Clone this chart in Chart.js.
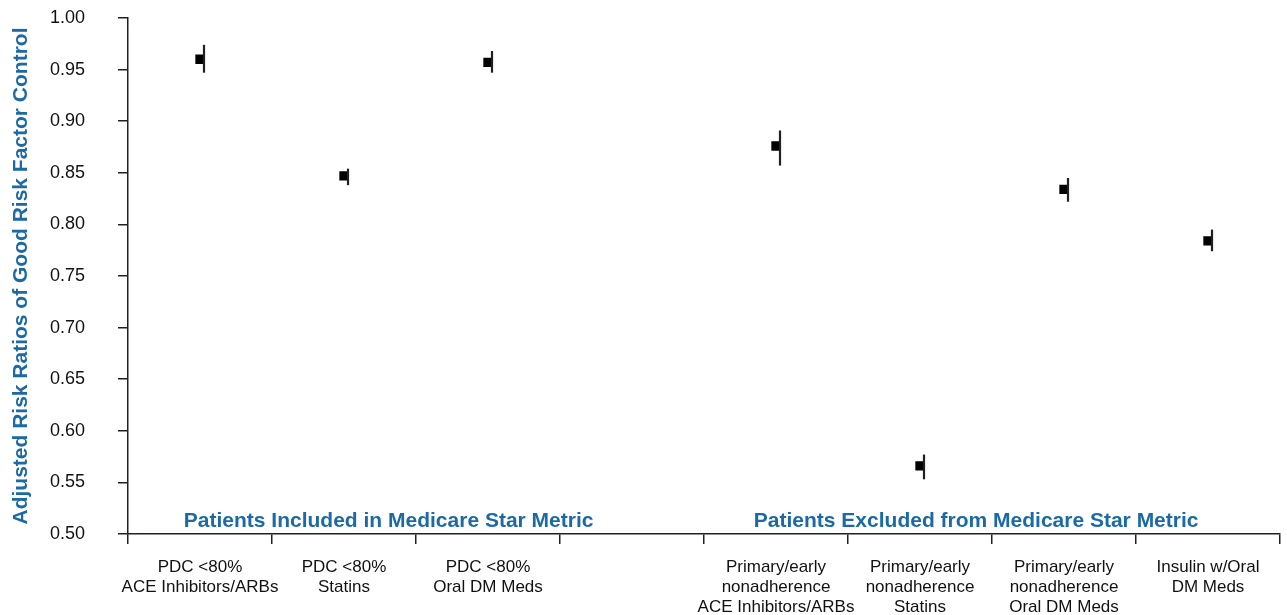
<!DOCTYPE html>
<html>
<head>
<meta charset="utf-8">
<script src="https://cdn.jsdelivr.net/npm/chart.js@4"></script>
<style>
  html, body { margin: 0; padding: 0; background: #fff; }
  #wrap { width: 1287px; height: 615px; position: relative; }
</style>
</head>
<body>
<div id="wrap"><canvas id="c"></canvas></div>
<script>
const categories = [
  ["PDC <80%", "ACE Inhibitors/ARBs"],
  ["PDC <80%", "Statins"],
  ["PDC <80%", "Oral DM Meds"],
  "",
  ["Primary/early", "nonadherence", "ACE Inhibitors/ARBs"],
  ["Primary/early", "nonadherence", "Statins"],
  ["Primary/early", "nonadherence", "Oral DM Meds"],
  ["Insulin w/Oral", "DM Meds"]
];
const riskRatio = [0.960, 0.847, 0.957, null, 0.876, 0.566, 0.834, 0.784];
const ciLower   = [0.947, 0.838, 0.947, null, 0.857, 0.553, 0.822, 0.774];
const ciUpper   = [0.974, 0.854, 0.968, null, 0.891, 0.577, 0.845, 0.795];
const yTicks = [0.50, 0.55, 0.60, 0.65, 0.70, 0.75, 0.80, 0.85, 0.90, 0.95, 1.00];
const groupLabels = ["Patients Included in Medicare Star Metric", "Patients Excluded from Medicare Star Metric"];
const groupCenters = [1.31, 5.39];

const BLUE = '#1b6aa5';
const DARK = '#231f20';
const FONT = '"Liberation Sans", Arial, Helvetica, sans-serif';

const overlay = {
  id: 'overlay',
  afterDatasetsDraw(chart) {
    const ctx = chart.ctx;
    const xs = chart.scales.x, ys = chart.scales.y;
    ctx.save();
    ctx.strokeStyle = DARK;
    ctx.lineWidth = 2.2;
    for (let i = 0; i < riskRatio.length; i++) {
      if (riskRatio[i] == null) continue;
      const px = xs.getPixelForValue(i) + 4;
      ctx.beginPath();
      ctx.moveTo(px, ys.getPixelForValue(ciUpper[i]));
      ctx.lineTo(px, ys.getPixelForValue(ciLower[i]));
      ctx.stroke();
    }
    ctx.fillStyle = BLUE;
    ctx.font = 'bold 21px ' + FONT;
    ctx.textAlign = 'center';
    ctx.textBaseline = 'middle';
    const step = xs.getPixelForValue(1) - xs.getPixelForValue(0);
    groupLabels.forEach((t, k) => {
      const gx = xs.getPixelForValue(0) + step * groupCenters[k];
      ctx.fillText(t, gx, ys.bottom - 13);
    });
    ctx.restore();
  }
};

new Chart(document.getElementById('c'), {
  type: 'line',
  data: {
    labels: categories,
    datasets: [{
      data: riskRatio,
      showLine: false,
      pointStyle: 'rect',
      pointRadius: 6.6,
      pointHoverRadius: 6.6,
      pointBackgroundColor: '#000',
      pointBorderColor: '#000',
      pointBorderWidth: 0
    }]
  },
  options: {
    responsive: true,
    maintainAspectRatio: false,
    animation: false,
    events: [],
    layout: { padding: { top: 18, right: 7, left: 0, bottom: 0 } },
    plugins: { legend: { display: false }, tooltip: { enabled: false } },
    scales: {
      x: {
        type: 'category',
        offset: true,
        grid: {
          offset: true,
          drawOnChartArea: false,
          drawTicks: true,
          tickLength: 10,
          color: DARK,
          lineWidth: 1.5
        },
        border: { color: DARK, width: 1.5 },
        ticks: {
          color: '#111',
          font: { family: FONT, size: 17, lineHeight: 1.18 },
          padding: 13,
          maxRotation: 0,
          autoSkip: false
        },
        afterFit(scale) {
          scale.height = 81;
          scale.paddingLeft = 0; scale.paddingRight = 0;
          scale.paddingTop = 0; scale.paddingBottom = 0;
        }
      },
      y: {
        min: 0.5,
        max: 1.0,
        afterBuildTicks(scale) { scale.ticks = yTicks.map(v => ({ value: v })); },
        grid: {
          drawOnChartArea: false,
          drawTicks: true,
          tickLength: 10,
          color: DARK,
          lineWidth: 1.5
        },
        border: { color: DARK, width: 1.5 },
        ticks: {
          color: '#111',
          font: { family: FONT, size: 18 },
          padding: 33,
          callback: v => Number(v).toFixed(2)
        },
        title: {
          display: true,
          text: 'Adjusted Risk Ratios of Good Risk Factor Control',
          color: BLUE,
          font: { family: FONT, size: 21, weight: 'bold' },
          padding: { top: 9, bottom: 0 }
        },
        afterFit(scale) {
          scale.width = 128;
          scale.paddingTop = 0; scale.paddingBottom = 0;
          scale.paddingLeft = 0; scale.paddingRight = 0;
        }
      }
    }
  },
  plugins: [overlay]
});
</script>
</body>
</html>
